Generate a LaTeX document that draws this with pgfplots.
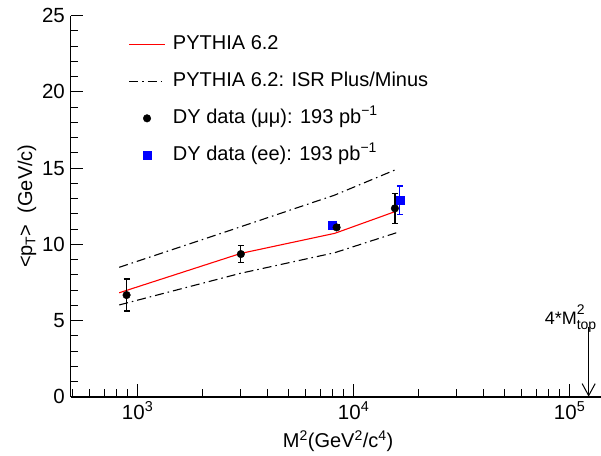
\documentclass[border=0pt]{standalone}
\usepackage{fontspec}
\setmainfont{Liberation Sans}
\usepackage{pgfplots}
\pgfplotsset{compat=1.18}
\usetikzlibrary{arrows.meta}

\pgfplotsset{
  linelegend/.style={legend image code/.code={\draw[##1] (0pt,0pt) -- (36pt,0pt);}},
  marklegend/.style={legend image code/.code={\draw[##1] plot coordinates {(18pt,0pt)};}},
}

\pgfplotstableread{
x y e
889 6.67 1.05
3006 9.36 0.57
8340 11.11 0.15
15530 12.36 0.99
}\mumu
\pgfplotstableread{
x y e
8000 11.27 0.15
16370 12.90 0.93
}\ee
\pgfplotstableread{
x y
822 6.82
3000 9.40
8180 10.72
15800 12.18
}\pythia
\pgfplotstableread{
x y
822 8.49
3000 11.15
8180 13.23
15800 14.92
}\isrplus
\pgfplotstableread{
x y
822 6.02
3000 8.10
8180 9.45
15800 10.76
}\isrminus

\begin{document}
\begin{tikzpicture}[x=1pt,y=1pt]
\begin{axis}[
  scale only axis, width=530pt, height=381pt,
  xmode=log, xmin=489, xmax=1.39e5, ymin=0, ymax=25,
  axis lines*=left,
  axis line style={line width=1.6pt},
  tick align=inside,
  major tick length=13pt, minor tick length=7.5pt,
  every tick/.style={black, line width=0.9pt},
  xtick={1000,10000,100000},
  xticklabels={10\textsuperscript{3},10\textsuperscript{4},10\textsuperscript{5}},
  minor xtick={500,600,700,800,900,2000,3000,4000,5000,6000,7000,8000,9000,20000,30000,40000,50000,60000,70000,80000,90000},
  ytick={0,5,10,15,20,25}, minor y tick num=4,
  /pgf/number format/assume math mode=true,
  ticklabel style={font=\fontsize{20.5}{24}\selectfont},
  yticklabel style={inner xsep=5.5pt},
  xticklabel style={inner ysep=5pt},
  xlabel={M\textsuperscript{2}(GeV\textsuperscript{2}/c\textsuperscript{4})},
  xlabel style={at={(axis description cs:0.505,-0.134)}, anchor=base, font=\fontsize{20}{24}\selectfont},
  ylabel={<p\textsubscript{T}>\ \ (GeV/c)},
  ylabel style={at={(axis description cs:-0.082,0.5)}, anchor=center, font=\fontsize{20}{24}\selectfont},
  legend cell align=left,
  legend style={draw=none, fill=none, at={(axis description cs:0.109,0.949)}, anchor=north west,
    inner sep=0pt, row sep=19pt, column sep=7.4pt, font=\fontsize{20}{24}\selectfont,
    nodes={inner sep=0pt, text height=14pt, text depth=4pt}},
]
\addplot[red, line width=1.1pt, linelegend] table {\pythia};
\addlegendentry{PYTHIA 6.2}
\addplot[black, line width=1.1pt, dash pattern=on 9pt off 4pt on 1.5pt off 4pt, linelegend] table {\isrplus};
\addlegendentry{PYTHIA 6.2: ISR Plus/Minus}
\addplot[black, line width=1.1pt, dash pattern=on 9pt off 4pt on 1.5pt off 4pt, forget plot] table {\isrminus};
\addplot[blue, only marks, mark=square*, mark size=4pt, forget plot,
  error bars/.cd, y dir=both, y explicit, error bar style={line width=1.2pt, blue},
  error mark options={rotate=90, mark size=3pt, line width=1.2pt, blue}] table[y error=e] {\ee};
\addplot[black, only marks, mark=*, mark size=3.8pt, marklegend,
  error bars/.cd, y dir=both, y explicit, error bar style={line width=1.2pt, black},
  error mark options={rotate=90, mark size=3pt, line width=1.2pt, black}] table[y error=e] {\mumu};
\addlegendentry{DY data (μμ): 193 pb\textsuperscript{−1}}
\addlegendimage{blue, only marks, mark=square*, mark size=4pt, marklegend}
\addlegendentry{DY data (ee): 193 pb\textsuperscript{−1}}
\addplot[black, line width=1pt, -{Straight Barb[length=12pt, width=13pt, line width=1pt]}] coordinates {(122500,4.6) (122500,0)};
\node[anchor=base west, font=\fontsize{18}{20}\selectfont, inner sep=0pt] at (axis cs:76600,4.75)
  {4*M\rlap{\raisebox{0.55em}{\fontsize{14}{14}\selectfont 2}}\raisebox{-0.3em}{\fontsize{14}{14}\selectfont top}};
\end{axis}
\pgfresetboundingbox
\path (-70.5,-58.3) rectangle (530.5,396.7);
\end{tikzpicture}
\end{document}
